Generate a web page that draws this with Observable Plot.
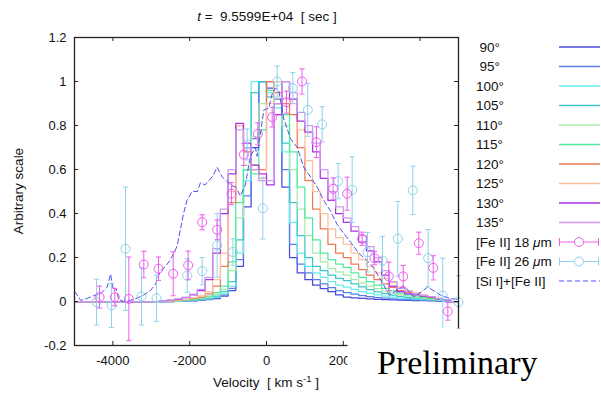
<!DOCTYPE html>
<html><head><meta charset="utf-8">
<script src="https://cdn.jsdelivr.net/npm/d3@7"></script>
<script src="https://cdn.jsdelivr.net/npm/@observablehq/plot@0.6"></script>
<style>
body{margin:0;background:#fff;}
#wrap{position:relative;width:601px;height:394px;font-family:"Liberation Sans",Arial,sans-serif;}
</style></head><body><div id="wrap"></div>
<script>
// ---- data ----
const xTicks = [-4000, -2000, 0, 2000, 4000];
const xTickLabels = [-4000, -2000, 0, 2000]; // 4000 is hidden by the "Preliminary" box
const yTicks = [-0.2, 0, 0.2, 0.4, 0.6, 0.8, 1.0, 1.2];
const angleLabels = ["90°","95°","100°","105°","110°","115°","120°","125°","130°","135°"];
const angleColors = ["#4848dc","#5a80ee","#66eeee","#3cc6c6","#a8eaa8","#50ea9e","#f07850","#ffbf9c","#a832e0","#cc99f2"];
// model spectra, 200 km/s bins, left edges -5000 .. 4800
const a90  = [0,0,0,0,0,0,0,0,0,0, 0,0,0,0.001,0.002,0.003,0.005,0.008,0.013,0.025, 0.05,0.16,0.43,0.7,1.0,0.97,0.9,0.52,0.2,0.13, 0.1,0.075,0.058,0.045,0.03,0.02,0.017,0.014,0.012,0.01, 0.008,0.007,0.006,0.005,0.004,0.004,0.003,0.002,0.001,0];
const a95  = [0,0,0,0,0,0,0,0,0,0, 0,0,0,0.001,0.002,0.004,0.006,0.01,0.016,0.03, 0.06,0.19,0.48,0.74,1.0,1.0,0.92,0.6,0.26,0.17, 0.13,0.1,0.08,0.063,0.05,0.04,0.033,0.027,0.022,0.018, 0.015,0.012,0.01,0.008,0.007,0.006,0.005,0.003,0.002,0];
const a100 = [0,0,0,0,0,0,0,0,0,0, 0,0,0.001,0.002,0.003,0.005,0.008,0.012,0.02,0.035, 0.07,0.22,0.55,1.0,1.0,0.95,0.88,0.68,0.36,0.22, 0.16,0.13,0.11,0.09,0.075,0.065,0.055,0.045,0.037,0.03, 0.025,0.02,0.016,0.013,0.011,0.009,0.007,0.005,0.003,0];
const a105 = [0,0,0,0,0,0,0,0,0,0, 0,0,0.001,0.002,0.004,0.006,0.01,0.015,0.025,0.045, 0.09,0.28,0.6,0.95,1.0,0.93,0.85,0.72,0.45,0.3, 0.2,0.16,0.14,0.12,0.105,0.095,0.08,0.066,0.054,0.044, 0.036,0.029,0.023,0.018,0.015,0.012,0.009,0.006,0.003,0];
const a110 = [0,0,0,0,0,0,0,0,0,0, 0,0.001,0.002,0.003,0.005,0.008,0.013,0.02,0.032,0.055, 0.14,0.38,0.62,0.75,0.9,1.0,0.9,0.8,0.6,0.42, 0.3,0.22,0.18,0.15,0.135,0.12,0.1,0.085,0.07,0.058, 0.047,0.038,0.03,0.024,0.019,0.015,0.011,0.007,0.004,0];
const a115 = [0,0,0,0,0,0,0,0,0,0, 0,0.001,0.002,0.004,0.006,0.01,0.016,0.025,0.04,0.07, 0.18,0.45,0.6,0.58,0.78,0.96,1.0,0.85,0.68,0.52, 0.38,0.28,0.22,0.19,0.17,0.155,0.13,0.11,0.09,0.075, 0.06,0.048,0.038,0.03,0.024,0.018,0.013,0.009,0.005,0];
const a120 = [0,0,0,0,0,0,0,0,0,0, 0,0.001,0.003,0.005,0.008,0.013,0.02,0.035,0.07,0.16, 0.45,0.8,0.68,0.6,0.6,1.0,0.95,0.9,0.85,0.7, 0.55,0.42,0.33,0.26,0.22,0.2,0.17,0.145,0.12,0.1, 0.08,0.064,0.05,0.04,0.032,0.025,0.018,0.012,0.006,0];
const a125 = [0,0,0,0,0,0,0,0,0,0, 0,0.001,0.003,0.006,0.01,0.016,0.026,0.045,0.1,0.22, 0.5,0.8,0.7,0.62,0.56,0.9,1.0,0.92,0.9,0.78, 0.64,0.5,0.4,0.33,0.29,0.26,0.22,0.19,0.16,0.13, 0.105,0.085,0.065,0.05,0.04,0.03,0.022,0.014,0.007,0];
const a130 = [0,0,0,0,0,0,0,0,0,0, 0,0.002,0.005,0.01,0.018,0.03,0.05,0.1,0.22,0.4, 0.58,0.81,0.72,0.62,0.58,0.53,0.85,1.0,0.92,0.82, 0.77,0.68,0.56,0.46,0.4,0.36,0.32,0.27,0.23,0.18, 0.12,0.07,0.045,0.035,0.03,0.025,0.02,0.012,0.006,0];
const a135 = [0,0,0,0,0,0,0,0,0,0, 0,0.002,0.006,0.012,0.02,0.033,0.055,0.11,0.24,0.42, 0.6,0.78,0.7,0.6,0.55,0.55,0.9,1.0,0.95,0.86, 0.8,0.72,0.6,0.5,0.43,0.38,0.34,0.3,0.25,0.2, 0.14,0.09,0.06,0.045,0.035,0.028,0.022,0.014,0.007,0];
const modelSeries = [a90,a95,a100,a105,a110,a115,a120,a125,a130,a135];

// [Si I]+[Fe II] observed profile
const siX = [-5000,-4970,-4840,-4670,-4500,-4320,-4150,-4060,-4010,-3980,-3920,-3850,-3720,-3550,-3370,-3200,-3020,-2890,-2760,-2630,-2500,-2330,-2160,-2070,-1935,-1800,-1720,-1600,-1500,-1400,-1285,-1150,-1050,-940,-800,-680,-550,-420,-290,-245,-160,-70,60,150,230,320,450,540,625,800,970,1150,1320,1490,1670,1840,2010,2190,2400,2600,2800,3000,3200,3350,3570,3850,4200,4550,4800,5000];
const siY = [0.045,0.04,0.005,0.014,0.027,0.035,0.065,0.125,0.07,0.05,0.06,0.01,0.0,0.005,0.015,0.03,0.05,0.08,0.14,0.16,0.19,0.25,0.4,0.46,0.5,0.5,0.54,0.53,0.55,0.57,0.61,0.565,0.55,0.53,0.52,0.48,0.53,0.66,0.7,0.66,0.76,0.87,0.88,0.945,0.97,0.96,0.83,0.785,0.74,0.7,0.61,0.565,0.52,0.46,0.41,0.35,0.31,0.27,0.22,0.19,0.15,0.09,0.03,0.045,0.072,0.02,0.066,0.027,0.013,0.01];

// [Fe II] 18 um
const fe18X = [-4349,-3950,-3585,-3195,-2813,-2430,-2040,-1675,-1285,-911,-590,-226,148,520,925,1300,1736,2100,2490,2813,3185,3560,3966,4341,4722];
const fe18Y = [0.02,0.02,0.012,0.168,0.149,0.126,0.164,0.36,0.326,0.49,0.668,0.762,0.838,0.906,1.0,0.724,0.512,0.49,0.285,0.197,0.114,0.114,0.265,0.153,-0.045];
const fe18E = [0.05,0.04,0.19,0.06,0.053,0.1,0.065,0.034,0.045,0.05,0.05,0.05,0.045,0.05,0.057,0.07,0.05,0.075,0.03,0.03,0.065,0.05,0.05,0.055,0.04];
// [Fe II] 26 um
const fe26X = [-4427,-4037,-3672,-3255,-2865,-2065,-1675,-1285,-875,-503,-96,278,685,1075,1450,1866,2231,2630,3020,3420,3810,4210,4590,5000];
const fe26Y = [-0.003,-0.018,0.24,0.023,0.015,0.118,0.138,0.255,0.225,0.714,0.424,1.0,0.97,0.871,0.805,0.547,0.508,0.224,0.186,0.285,0.505,0.197,0.027,-0.003];
const fe26E = [0.104,0.1,0.28,0.13,0.105,0.076,0.062,0.145,0.06,0.07,0.14,0.07,0.07,0.12,0.08,0.08,0.15,0.09,0.11,0.17,0.11,0.13,0.17,0.12];

const legendLabels = [...angleLabels, "[Fe II] 18 μm", "[Fe II] 26 μm", "[Si I]+[Fe II]"];
const fe18Color = "#ee5cee", fe26Color = "#8ed2ec", siColor = "#5050f0";

// ---- build tables ----
const binEdges = d3.range(-5000, 5000, 200);
const modelRows = modelSeries.flatMap((vals, k) => [
  ...vals.map((v, i) => ({angle: angleLabels[k], x: binEdges[i], y: v})),
  {angle: angleLabels[k], x: 5000, y: vals[vals.length - 1]}
]);
const siRows = siX.map((x, i) => ({x, y: siY[i]}));
const fe18 = fe18X.map((x, i) => ({x, y: fe18Y[i], e: fe18E[i]}));
const fe26 = fe26X.map((x, i) => ({x, y: fe26Y[i], e: fe26E[i]}));

const cap = {draw(ctx, size) { const w = Math.sqrt(size / Math.PI); ctx.moveTo(-w, 0); ctx.lineTo(w, 0); }};
function errMarks(data, color) {
  return [
    Plot.ruleX(data, {x: "x", y1: d => d.y - d.e, y2: d => d.y + d.e, stroke: color, strokeWidth: 1}),
    Plot.dot(data, {x: "x", y: d => d.y - d.e, symbol: cap, r: 2.6, stroke: color, fill: "none", strokeWidth: 1}),
    Plot.dot(data, {x: "x", y: d => d.y + d.e, symbol: cap, r: 2.6, stroke: color, fill: "none", strokeWidth: 1}),
    Plot.dot(data, {x: "x", y: "y", r: 4.5, stroke: color, fill: "none", strokeWidth: 1})
  ];
}

const FW = 601 - 74 - 143, FH = 394 - 37 - 49;
const axisColor = "#222";
const chart = Plot.plot({
  width: 601, height: 394,
  marginLeft: 74, marginRight: 143, marginTop: 37, marginBottom: 49,
  style: {fontFamily: "Liberation Sans, Arial, sans-serif", fontSize: "13px", background: "white", color: "#111"},
  x: {domain: [-5000, 5000], label: null},
  y: {domain: [-0.2, 1.2], label: null},
  color: {domain: angleLabels, range: angleColors},
  marks: [
    Plot.line(modelRows, {x: "x", y: "y", z: "angle", stroke: "angle", curve: "step-after", strokeWidth: 1.25}),
    Plot.line(siRows, {x: "x", y: "y", stroke: siColor, strokeWidth: 1, strokeDasharray: "5,3"}),
    ...errMarks(fe26, fe26Color),
    ...errMarks(fe18, fe18Color),
    Plot.ruleX(xTicks, {x: d => d, insetTop: FH - 4, stroke: axisColor}),
    Plot.ruleX(xTicks, {x: d => d, insetBottom: FH - 4, stroke: axisColor}),
    Plot.ruleY(yTicks, {y: d => d, insetRight: FW - 4, stroke: axisColor}),
    Plot.ruleY(yTicks, {y: d => d, insetLeft: FW - 4, stroke: axisColor}),
    Plot.frame({stroke: axisColor, strokeWidth: 1.3}),
    Plot.axisX(xTickLabels, {anchor: "bottom", tickSize: 0, tickPadding: 10, tickFormat: d => String(d), label: null, fontSize: 13}),
    Plot.axisY(yTicks, {anchor: "left", tickSize: 0, tickPadding: 8, tickFormat: d => String(Math.round(d * 10) / 10), label: null, fontSize: 13})
  ]
});
const wrap = document.getElementById("wrap");
wrap.appendChild(chart);

// ---- overlay: titles, legend, preliminary box ----
const ov = d3.select(wrap).append("svg")
  .attr("width", 601).attr("height", 394)
  .style("position", "absolute").style("left", "0px").style("top", "0px")
  .attr("font-family", "Liberation Sans, Arial, sans-serif").attr("fill", "#111");

const title = ov.append("text").attr("x", 267).attr("y", 20.5).attr("text-anchor", "middle").attr("font-size", 13.5).style("white-space", "pre");
title.append("tspan").attr("font-style", "italic").text("t");
title.append("tspan").text(" =  9.5599E+04  [ sec ]");

const xl = ov.append("text").attr("x", 266).attr("y", 386.5).attr("text-anchor", "middle").attr("font-size", 13.5).style("white-space", "pre");
xl.append("tspan").text("Velocity  [ km s");
xl.append("tspan").attr("font-size", 9.5).attr("dy", -5).text("-1");
xl.append("tspan").attr("dy", 5).text(" ]");

ov.append("text").attr("transform", "translate(23,191) rotate(-90)").attr("text-anchor", "middle").attr("font-size", 13.5).text("Arbitrary scale");

// legend
legendLabels.forEach((lab, i) => {
  const cy = 47 + 19.5 * i;
  const t = ov.append("text").attr("x", lab.length === 3 ? 479.5 : 476).attr("y", cy + 4.7).attr("font-size", 13.5);
  if (lab.includes("μm")) {
    t.append("tspan").text(lab.replace("μm", ""));
    t.append("tspan").attr("font-style", "italic").text("μ");
    t.append("tspan").text("m");
  } else t.text(lab);
  if (i < angleLabels.length) {
    ov.append("line").attr("x1", 559).attr("x2", 600).attr("y1", cy).attr("y2", cy).attr("stroke", angleColors[i]).attr("stroke-width", 1.4);
  } else if (i < angleLabels.length + 2) {
    const c = i === angleLabels.length ? fe18Color : fe26Color;
    ov.append("line").attr("x1", 559).attr("x2", 599).attr("y1", cy).attr("y2", cy).attr("stroke", c);
    ov.append("line").attr("x1", 559.5).attr("x2", 559.5).attr("y1", cy - 4).attr("y2", cy + 4).attr("stroke", c);
    ov.append("line").attr("x1", 598.5).attr("x2", 598.5).attr("y1", cy - 4).attr("y2", cy + 4).attr("stroke", c);
    ov.append("circle").attr("cx", 579).attr("cy", cy).attr("r", 4.5).attr("fill", "white").attr("stroke", c);
  } else {
    ov.append("line").attr("x1", 559).attr("x2", 600).attr("y1", cy).attr("y2", cy).attr("stroke", "#8a8aff").attr("stroke-width", 1.4).attr("stroke-dasharray", "5,3");
  }
});

// white "Preliminary" box
ov.append("rect").attr("x", 347.5).attr("y", 328.5).attr("width", 260).attr("height", 70).attr("fill", "white");
ov.append("text").attr("x", 377).attr("y", 374).attr("font-family", "Liberation Serif, serif").attr("font-size", 34).attr("fill", "#000").text("Preliminary");
</script></body></html>
